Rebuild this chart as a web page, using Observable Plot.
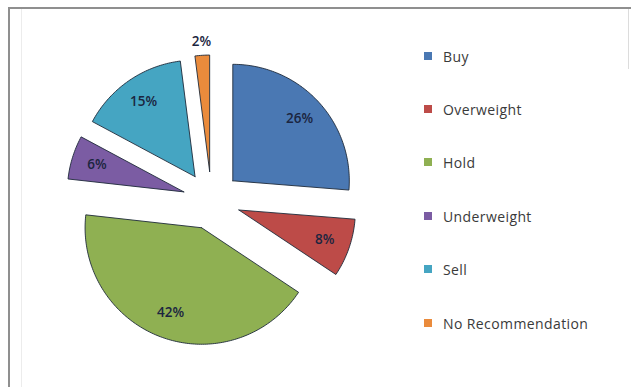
<!DOCTYPE html>
<html>
<head>
<meta charset="utf-8">
<script src="https://cdn.jsdelivr.net/npm/d3@7"></script>
<script src="https://cdn.jsdelivr.net/npm/@observablehq/plot@0.6"></script>
<style>
  html, body { margin: 0; padding: 0; background: #fff; }
  #wrap { position: relative; width: 631px; height: 387px; overflow: hidden; }
  #frame { position: absolute; left: 8px; top: 7px; width: 640px; height: 400px;
           border-top: 2px solid #8f8f8f; border-left: 2px solid #8f8f8f; box-sizing: border-box; }
  #inner { position: absolute; left: 21px; top: 9px; width: 1px; height: 380px; background: #ececec; }
  #rightline { position: absolute; left: 628px; top: 9px; width: 1px; height: 60px; background: #dcdcdc; }
  #chart { position: absolute; left: 0; top: 0; }
  #legend { position: absolute; left: 424px; top: 0; font-family: "Open Sans", sans-serif; font-size: 14px; letter-spacing: 0.4px; color: #3a3a3a; }
  .item { position: absolute; left: 0; white-space: nowrap; display: flex; align-items: center; height: 16px; }
  .sw { width: 8px; height: 8px; margin-right: 11px; }
</style>
</head>
<body>
<div id="wrap">
  <div id="frame"></div>
  <div id="inner"></div>
  <div id="rightline"></div>
  <div id="chart"></div>
  <div id="legend"></div>
</div>
<script>
const categories = ["Buy", "Overweight", "Hold", "Underweight", "Sell", "No Recommendation"];
const values = [26, 8, 42, 6, 15, 2];
const labels = ["26%", "8%", "42%", "6%", "15%", "2%"];
const colors = ["#4a78b3", "#bd4b48", "#8fb052", "#7b5ca3", "#45a5c2", "#ea8b3c"];

const W = 631, H = 387;
const cx = 211, cy = 200, R = 116.5, explode = 29;

const pie = d3.pie().sort(null).value(d => d.value);
const rows = categories.map((c, i) => ({category: c, value: values[i], label: labels[i], color: colors[i]}));
const arcs = pie(rows);

const polys = [];
const labelPts = [];
arcs.forEach(a => {
  const mid = (a.startAngle + a.endAngle) / 2;
  const ox = cx + explode * Math.sin(mid), oy = cy - explode * Math.cos(mid);
  const cat = a.data.category;
  polys.push({category: cat, x: ox, y: oy});
  const n = Math.max(4, Math.ceil((a.endAngle - a.startAngle) * 180 / Math.PI));
  for (let k = 0; k <= n; k++) {
    const t = a.startAngle + (a.endAngle - a.startAngle) * k / n;
    polys.push({category: cat, x: ox + R * Math.sin(t), y: oy - R * Math.cos(t)});
  }
  polys.push({category: cat, x: ox, y: oy});
  const small = a.data.value / d3.sum(values) < 0.04;
  const lr = small ? R + 14 : R * 0.78;
  labelPts.push({label: a.data.label, x: ox + lr * Math.sin(mid), y: oy - lr * Math.cos(mid)});
});

const plot = Plot.plot({
  width: W, height: H,
  margin: 0,
  x: {domain: [0, W], range: [0, W], axis: null},
  y: {domain: [0, H], range: [0, H], axis: null},
  color: {domain: categories, range: colors},
  style: {background: "transparent"},
  marks: [
    Plot.line(polys, {x: "x", y: "y", z: "category", fill: "category", stroke: "#1e2a3a", strokeWidth: 0.9, strokeLinejoin: "round", curve: "linear"}),
    Plot.text(labelPts, {x: "x", y: "y", text: "label", fill: "#1b2540", fontSize: 13.5, fontWeight: 600, fontFamily: "Open Sans, sans-serif"})
  ]
});
document.getElementById("chart").appendChild(plot);

const legend = document.getElementById("legend");
const legendTop = [48, 101, 154, 208, 261, 315];
categories.forEach((c, i) => {
  const d = document.createElement("div");
  d.className = "item";
  d.style.top = legendTop[i] + "px";
  d.innerHTML = `<span class="sw" style="background:${colors[i]}"></span><span>${c}</span>`;
  legend.appendChild(d);
});
</script>
</body>
</html>
